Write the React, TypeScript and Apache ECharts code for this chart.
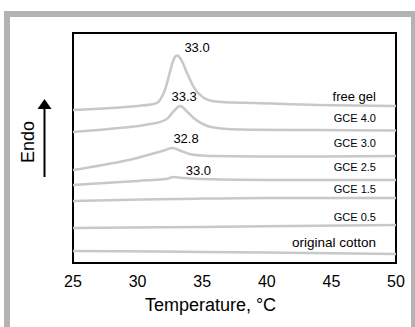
import React, { useEffect, useRef } from "react";
import * as echarts from "echarts";

// Temperatures (°C) and heat-flow values (a.u., endo up)
const freeGelT = [25, 28, 30, 31, 31.6, 32.1, 32.5, 32.8, 33.05, 33.35, 33.9, 34.5, 35.3, 36.5, 39, 44, 50];
const freeGelV = [66.5, 67.4, 68.3, 68.9, 70, 75, 83, 88.6, 90.2, 88.6, 81.7, 75.2, 71.3, 70, 69.6, 68.7, 68.3];

const gce40T = [25, 29, 31, 32.2, 32.8, 33.3, 33.8, 34.6, 35.7, 38, 44, 50];
const gce40V = [57, 58.9, 60.4, 62.4, 66, 68.3, 66, 61.9, 59.1, 58, 57.8, 57.6];

const gce30T = [25, 27.3, 29.5, 31.2, 32.1, 32.7, 33.3, 34.2, 36, 42, 50];
const gce30V = [40.4, 42.6, 45, 47.6, 49, 50, 48.8, 47.2, 46.5, 46.3, 46.5];

const gce25T = [25, 30, 32.2, 32.8, 33.4, 35, 40, 50];
const gce25V = [33.9, 35.7, 36.5, 37.4, 37, 36.5, 36.1, 36.1];

const gce15T = [25, 33, 40, 50];
const gce15V = [27, 27.8, 28.3, 28.3];

const gce05T = [25, 35, 50];
const gce05V = [15.2, 15.7, 16.5];

const cottonT = [25, 35, 50];
const cottonV = [5.2, 4.8, 3.9];

const seriesNames = ["free gel", "GCE 4.0", "GCE 3.0", "GCE 2.5", "GCE 1.5", "GCE 0.5", "original cotton"];
const seriesTemps = [freeGelT, gce40T, gce30T, gce25T, gce15T, gce05T, cottonT];
const seriesValues = [freeGelV, gce40V, gce30V, gce25V, gce15V, gce05V, cottonV];

// curve-name label anchors (right edge)
const nameLabelT = 48.45;
const nameLabelV = [72.6, 63, 52.2, 41.7, 32.2, 20, 8.7];
const nameLabelSize = [13, 11, 11, 11, 11, 11, 13.5];

// peak temperature labels
const peakTexts = ["33.0", "33.3", "32.8", "33.0"];
const peakLabelT = [34.6, 33.6, 33.75, 34.7];
const peakLabelV = [93.5, 72.2, 54.3, 40.4];

const xTicks = { min: 25, max: 50, interval: 5 };

export default function App() {
  const ref = useRef<HTMLDivElement>(null);
  useEffect(() => {
    document.body.style.margin = "0";
    const chart = echarts.init(ref.current!, null, { renderer: "svg" });
    const font = "'Liberation Sans', Arial, sans-serif";
    const series: any[] = seriesNames.map((name, i) => {
      const mp: any[] = [
        {
          coord: [nameLabelT, nameLabelV[i]],
          label: {
            show: true,
            formatter: name,
            position: "left",
            distance: 0,
            fontSize: nameLabelSize[i],
            color: "#000",
            fontFamily: font,
          },
        },
      ];
      if (i < peakTexts.length) {
        mp.push({
          coord: [peakLabelT[i], peakLabelV[i]],
          label: {
            show: true,
            formatter: peakTexts[i],
            position: "inside",
            fontSize: 13,
            color: "#000",
            fontFamily: font,
          },
        });
      }
      return {
        name,
        type: "line",
        smooth: 0.4,
        showSymbol: false,
        symbol: "none",
        data: seriesTemps[i].map((t, k) => [t, seriesValues[i][k]]),
        lineStyle: { color: "#c8c8c8", width: 2.5 },
        markPoint: {
          symbol: "circle",
          symbolSize: 0,
          silent: true,
          itemStyle: { color: "transparent" },
          data: mp,
        },
      };
    });

    chart.setOption({
      animation: false,
      backgroundColor: "#ffffff",
      grid: {
        left: 73,
        top: 33,
        width: 323,
        height: 230,
        show: true,
        borderColor: "#000",
        borderWidth: 2,
        backgroundColor: "transparent",
      },
      xAxis: {
        type: "value",
        min: xTicks.min,
        max: xTicks.max,
        interval: xTicks.interval,
        axisLine: { show: false },
        axisTick: { show: false },
        splitLine: { show: false },
        axisLabel: { fontSize: 16, color: "#000", margin: 10, fontFamily: font },
        name: "Temperature, °C",
        nameLocation: "middle",
        nameGap: 33,
        nameTextStyle: { fontSize: 18, color: "#000", fontFamily: font, padding: [0, 48, 0, 0] },
      },
      yAxis: {
        type: "value",
        min: 0,
        max: 100,
        show: false,
      },
      graphic: [
        { type: "rect", shape: { x: 4, y: 11, width: 411, height: 6 }, style: { fill: "#b3b3b3" } },
        { type: "rect", shape: { x: 4, y: 11, width: 6, height: 316 }, style: { fill: "#b3b3b3" } },
        { type: "rect", shape: { x: 411, y: 11, width: 4, height: 316 }, style: { fill: "#b3b3b3" } },
        {
          type: "text",
          x: 28,
          y: 142,
          rotation: Math.PI / 2,
          style: { text: "Endo", fontSize: 18, fill: "#000", align: "center", verticalAlign: "middle", fontFamily: font },
        },
        { type: "line", shape: { x1: 44.5, y1: 106, x2: 44.5, y2: 177 }, style: { stroke: "#000", lineWidth: 2 } },
        { type: "polygon", shape: { points: [[44.5, 99], [37.5, 109], [51.5, 109]] }, style: { fill: "#000" } },
      ],
      series,
    });
    return () => chart.dispose();
  }, []);
  return <div ref={ref} style={{ position: "fixed", left: 0, top: 0, width: 415, height: 327 }} />;
}
